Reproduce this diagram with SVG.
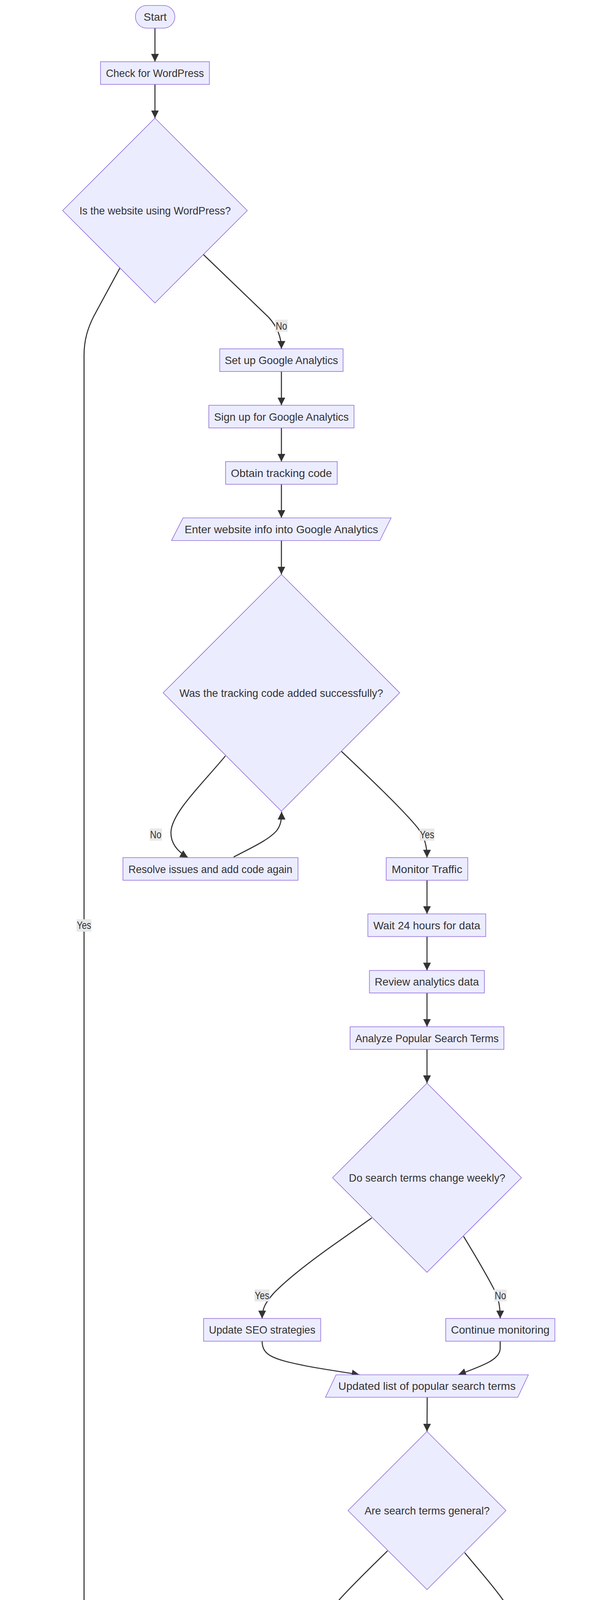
<svg xmlns="http://www.w3.org/2000/svg" width="1568" height="5268" viewBox="0 0 1568 5268">
<style>
.node rect, .node polygon { fill:#ECECFF; stroke:#9370DB; stroke-width:1.6; }
text { font-family:"Liberation Sans", Arial, sans-serif; font-size:28px; fill:#333333; text-anchor:middle; }
.edge { fill:none; stroke:#333333; stroke-width:2.7; marker-end:url(#arrow); }
.lbl rect { fill:#e8e8e8; }
</style>
<defs>
<marker id="arrow" viewBox="0 0 10 10" refX="10" refY="5" markerUnits="userSpaceOnUse" markerWidth="20" markerHeight="20" orient="auto">
<path d="M0,0 L10,5 L0,10 z" fill="#333333"/>
</marker>
</defs>
<rect x="0" y="0" width="1568" height="5268" fill="#ffffff"/>

<g id="connectors">
<path class="edge" d="M397,72 L397,158"/>
<path class="edge" d="M397,216 L397,302.5"/>
<path class="edge" d="M521,651.5 L688,812 Q721,848 721,893"/>
<path class="edge" d="M307.3,686 L240,810 C225,840 215.3,870 215.3,910 L215.3,4187.8"/>
<path class="edge" d="M721,951 L721,1037.5"/>
<path class="edge" d="M721,1095.5 L721,1181.7"/>
<path class="edge" d="M721,1239.7 L721,1325.8"/>
<path class="edge" d="M721,1383.8 L721,1470.5"/>
<path class="edge" d="M577.6,1935 C520,2005 440,2080 438,2130 C437,2160 455,2180 481.5,2195.4"/>
<path class="edge" d="M598.6,2194 C640,2172 690,2150 710,2125 C719,2112 721.4,2100 721.4,2078"/>
<path class="edge" d="M874.3,1923 C940,1985 1030,2070 1070,2119 C1088,2143 1094,2165 1094,2195.4"/>
<path class="edge" d="M1094,2253.5 L1094,2339.6"/>
<path class="edge" d="M1094,2397.6 L1094,2484.4"/>
<path class="edge" d="M1094,2542 L1094,2628.5"/>
<path class="edge" d="M1094,2686.5 L1094,2773"/>
<path class="edge" d="M952.5,3117.8 L846.9,3192.3 C790,3233 730,3280 700,3312 C680,3335 671.6,3350 671.6,3375.3"/>
<path class="edge" d="M1187.7,3165 C1215,3210 1250,3270 1266,3301 C1278,3325 1281.5,3345 1281.5,3375.3"/>
<path class="edge" d="M671.6,3433.5 C671.6,3470 700,3480 785,3497 C840,3507 890,3514 921,3519.5"/>
<path class="edge" d="M1281.5,3433.5 L1281.5,3452 C1281.5,3480 1240,3495 1174,3519.5"/>
<path class="edge" d="M1094.5,3577 L1094,3664.7"/>
<path class="edge" d="M993.1,3970 C950,4012 890,4070 860,4106 C840,4130 833.7,4155 833.7,4187"/>
<path class="edge" d="M1190.6,3974.8 C1240,4035 1290,4090 1310,4130 C1325,4160 1327.5,4175 1327.5,4200 L1327.5,4504.5"/>
<path class="edge" d="M833.5,4245.3 L833.5,4504.5"/>
<path class="edge" d="M833.5,4562 L833.5,4650 C834,4720 850,4760 880,4788 C910,4815 950,4835 997.3,4853"/>
<path class="edge" d="M1327,4562 L1326,4650 C1325,4720 1315,4760 1290,4786 C1265,4812 1230,4832 1181.6,4853"/>
<path class="edge" d="M1094,4911.7 L1094,4997.6"/>
<path class="edge" d="M1094.7,5056 L1094.7,5068 C1094.7,5090 1060,5100 1000,5115 C920,5133 820,5150 749.8,5162.3"/>
<path class="edge" d="M215,4245.5 L215,4332.5"/>
<path class="edge" d="M148,4668.4 C125,4700 100,4750 90,4795 C83,4830 82.7,4850 82.7,4880 L82.7,4905 C82.7,4950 110,4968 160.7,4997"/>
<path class="edge" d="M284.2,4668.4 C300,4692 325,4730 335,4760 C344,4785 347.4,4810 347.4,4853.7"/>
<path class="edge" d="M347.4,4911.5 L347.4,4930 C347.4,4962 320,4975 275.5,4997"/>
<path class="edge" d="M215.8,5055.5 L215.8,5070 C215.8,5100 260,5110 330,5122 C420,5137 560,5153 661.7,5162.5"/>
</g>

<g id="edge-labels">
<g class="lbl"><rect x="705" y="818.5" width="32" height="31"/><text x="721" y="843.5" textLength="29" lengthAdjust="spacingAndGlyphs">No</text></g>
<g class="lbl"><rect x="196" y="2353.3" width="38.3" height="31.7"/><text x="215.2" y="2378.3" textLength="37" lengthAdjust="spacingAndGlyphs">Yes</text></g>
<g class="lbl"><rect x="383.3" y="2120.8" width="31.6" height="31.2"/><text x="399" y="2145.5" textLength="29" lengthAdjust="spacingAndGlyphs">No</text></g>
<g class="lbl"><rect x="1075" y="2121" width="38" height="31"/><text x="1094" y="2145.5" textLength="37" lengthAdjust="spacingAndGlyphs">Yes</text></g>
<g class="lbl"><rect x="652" y="3301" width="38.7" height="30.6"/><text x="671.3" y="3325.5" textLength="37" lengthAdjust="spacingAndGlyphs">Yes</text></g>
<g class="lbl"><rect x="1266" y="3301" width="32" height="30.6"/><text x="1282" y="3325.5" textLength="29" lengthAdjust="spacingAndGlyphs">No</text></g>
<g class="lbl"><rect x="814" y="4112.7" width="38.8" height="31.3"/><text x="833.5" y="4137.5" textLength="37" lengthAdjust="spacingAndGlyphs">Yes</text></g>
<g class="lbl"><rect x="1311" y="4203" width="32" height="29.5"/><text x="1327" y="4227.3" textLength="29" lengthAdjust="spacingAndGlyphs">No</text></g>
<g class="lbl"><rect x="63" y="4867" width="39" height="30"/><text x="82.5" y="4891.5" textLength="37" lengthAdjust="spacingAndGlyphs">Yes</text></g>
<g class="lbl"><rect x="332" y="4779.6" width="31.8" height="29.9"/><text x="348" y="4804" textLength="29" lengthAdjust="spacingAndGlyphs">No</text></g>
</g>

<g id="n-start" class="node"><rect x="347" y="14" width="101" height="58" rx="29" ry="29"/><text x="397.5" y="53" textLength="59" lengthAdjust="spacingAndGlyphs">Start</text></g>
<g id="n-checkwp" class="node"><rect x="257.5" y="158" width="279" height="58"/><text x="397" y="197" textLength="251" lengthAdjust="spacingAndGlyphs">Check for WordPress</text></g>
<g id="n-iswp" class="node"><polygon points="397,302.5 633.5,539 397,775.5 160.5,539"/><text x="397.4" y="549" textLength="388" lengthAdjust="spacingAndGlyphs">Is the website using WordPress?</text></g>
<g id="n-setupga" class="node"><rect x="563" y="893" width="316" height="58"/><text x="721" y="932" textLength="290.5" lengthAdjust="spacingAndGlyphs">Set up Google Analytics</text></g>
<g id="n-signup" class="node"><rect x="535" y="1037.5" width="372" height="58"/><text x="721" y="1076.5" textLength="345" lengthAdjust="spacingAndGlyphs">Sign up for Google Analytics</text></g>
<g id="n-obtain" class="node"><rect x="578" y="1181.7" width="286" height="58"/><text x="721" y="1220.7" textLength="259" lengthAdjust="spacingAndGlyphs">Obtain tracking code</text></g>
<g id="n-enter" class="node"><polygon points="469,1325.8 1002,1325.8 973.2,1383.8 439.4,1383.8"/><text x="721" y="1364.8" textLength="496" lengthAdjust="spacingAndGlyphs">Enter website info into Google Analytics</text></g>
<g id="n-tracked" class="node"><polygon points="721,1470.5 1024,1773.5 721,2076.5 418,1773.5"/><text x="720.7" y="1783.5" textLength="522" lengthAdjust="spacingAndGlyphs">Was the tracking code added successfully?</text></g>
<g id="n-resolve" class="node"><rect x="315" y="2195.5" width="448.5" height="58"/><text x="539" y="2234.5" textLength="420" lengthAdjust="spacingAndGlyphs">Resolve issues and add code again</text></g>
<g id="n-monitor" class="node"><rect x="989.5" y="2195.5" width="209" height="58"/><text x="1094" y="2234.5" textLength="181" lengthAdjust="spacingAndGlyphs">Monitor Traffic</text></g>
<g id="n-wait" class="node"><rect x="942.5" y="2339.6" width="302" height="58"/><text x="1093.5" y="2378.6" textLength="274" lengthAdjust="spacingAndGlyphs">Wait 24 hours for data</text></g>
<g id="n-review" class="node"><rect x="946.5" y="2484.4" width="294.5" height="57.6"/><text x="1093.6" y="2523.2" textLength="267" lengthAdjust="spacingAndGlyphs">Review analytics data</text></g>
<g id="n-analyze" class="node"><rect x="897" y="2628.5" width="394" height="58"/><text x="1094" y="2667.5" textLength="367.6" lengthAdjust="spacingAndGlyphs">Analyze Popular Search Terms</text></g>
<g id="n-weekly" class="node"><polygon points="1094,2773 1336,3015 1094,3257 852,3015"/><text x="1094.2" y="3025" textLength="400.7" lengthAdjust="spacingAndGlyphs">Do search terms change weekly?</text></g>
<g id="n-updateseo" class="node"><rect x="521.6" y="3375.3" width="300" height="58.2"/><text x="671.6" y="3414.4" textLength="272.8" lengthAdjust="spacingAndGlyphs">Update SEO strategies</text></g>
<g id="n-contmon" class="node"><rect x="1142" y="3375.3" width="279.6" height="58.2"/><text x="1281.8" y="3414.4" textLength="252.5" lengthAdjust="spacingAndGlyphs">Continue monitoring</text></g>
<g id="n-updatedlist" class="node"><polygon points="861,3519.5 1353.7,3519.5 1326.6,3577 834,3577"/><text x="1093.9" y="3558.3" textLength="454.3" lengthAdjust="spacingAndGlyphs">Updated list of popular search terms</text></g>
<g id="n-general" class="node"><polygon points="1094,3664.7 1296.3,3867 1094,4069.3 891.7,3867"/><text x="1094.3" y="3877" textLength="320.8" lengthAdjust="spacingAndGlyphs">Are search terms general?</text></g>
<g id="n-targetother" class="node"><rect x="558.6" y="4187" width="549.6" height="58.3"/><text x="833.4" y="4226.2" textLength="522.4" lengthAdjust="spacingAndGlyphs">Target other keywords or improve content</text></g>
<g id="n-create" class="node"><rect x="637" y="4504.5" width="393" height="57.5"/><text x="833.4" y="4543.2" textLength="365.8" lengthAdjust="spacingAndGlyphs">Create higher quality content</text></g>
<g id="n-contseo" class="node"><rect x="1116.4" y="4504.5" width="421" height="57.5"/><text x="1327" y="4543.2" textLength="394.4" lengthAdjust="spacingAndGlyphs">Continue current SEO strategies</text></g>
<g id="n-targetspec" class="node"><rect x="928.6" y="4853" width="331" height="58.7"/><text x="1094.1" y="4892.4" textLength="304.5" lengthAdjust="spacingAndGlyphs">Target specific keywords</text></g>
<g id="n-improved" class="node"><polygon points="893.2,4997.6 1323.9,4997.6 1295.1,5056 864.4,5056"/><text x="1094.1" y="5036.8" textLength="393" lengthAdjust="spacingAndGlyphs">Improved search engine ranking</text></g>
<g id="n-checkjp" class="node"><rect x="89.8" y="4187.5" width="250" height="58"/><text x="215.3" y="4226.5" textLength="222.4" lengthAdjust="spacingAndGlyphs">Check for Jetpack</text></g>
<g id="n-isjp" class="node"><polygon points="215,4332.6 416.5,4533.6 215,4734.6 13.5,4533.6"/><text x="215.3" y="4543.6" textLength="318.4" lengthAdjust="spacingAndGlyphs">Is Jetpack already set up?</text></g>
<g id="n-install" class="node"><rect x="162.8" y="4853.7" width="370.4" height="57.8"/><text x="348" y="4892.6" textLength="343" lengthAdjust="spacingAndGlyphs">Install and Activate Jetpack</text></g>
<g id="n-access" class="node"><polygon points="59.7,4997.7 400,4997.7 371,5055.5 30.6,5055.5"/><text x="215" y="5036.6" textLength="303.5" lengthAdjust="spacingAndGlyphs">Access Jetpack Analytics</text></g>
<g id="n-end" class="node"><rect x="661.7" y="5141.8" width="86.3" height="57.7" rx="28.8" ry="28.8"/><text x="705" y="5180.7" textLength="43" lengthAdjust="spacingAndGlyphs">End</text></g>
</svg>
